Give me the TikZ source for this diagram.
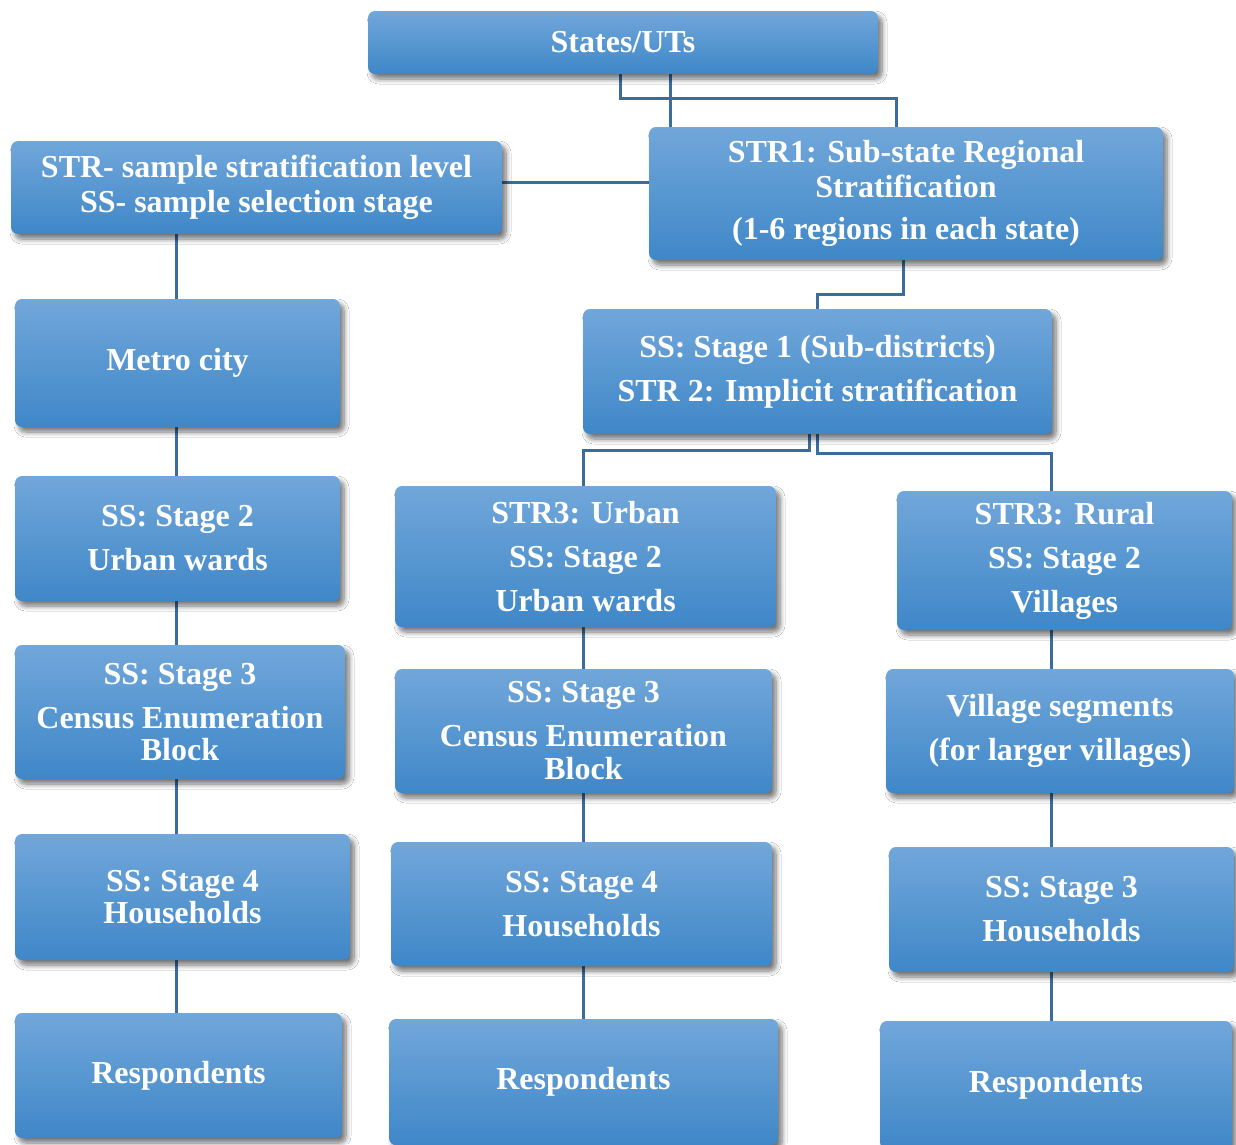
\documentclass[tikz,border=0pt]{standalone}
\usepackage{fontspec}
\setmainfont{Liberation Serif}
\usetikzlibrary{shadows.blur,backgrounds}
\definecolor{boxtop}{RGB}{113,167,218}
\definecolor{boxbot}{RGB}{63,135,200}
\definecolor{link}{RGB}{60,108,158}
\tikzset{
  stagebox/.style={rounded corners=7pt, top color=boxtop, bottom color=boxbot,
    draw=none, text=white, align=center, inner sep=0pt,
    font=\fontsize{32}{44}\selectfont\bfseries,
    blur shadow={shadow xshift=4pt, shadow yshift=-5pt, shadow blur steps=8,
      shadow blur radius=5pt, shadow blur extra rounding=2pt, shadow opacity=55}},
  wire/.style={draw=link, line width=3pt}
}
\begin{document}
\begin{tikzpicture}[x=1pt,y=-1pt]
\clip (0,0) rectangle (1236,1144);

% boxes
\node[stagebox, minimum width=510, minimum height=63] (states) at (623,42.5) {States/UTs};
\node[stagebox, minimum width=491, minimum height=93] (legend) at (256.5,187.5)
  {STR- sample stratification level\\[-9pt]SS- sample selection stage};
\node[stagebox, minimum width=514, minimum height=133] (str1) at (906,193.5)
  {STR1: Sub-state Regional\\[-9pt]Stratification\\[-2pt](1-6 regions in each state)};
\node[stagebox, minimum width=325, minimum height=128] (metro) at (177.5,363) {Metro city};
\node[stagebox, minimum width=469, minimum height=125] (stage1) at (817.5,371.5)
  {SS: Stage 1 (Sub-districts)\\STR 2: Implicit stratification};

% left column
\node[stagebox, minimum width=325, minimum height=125] (l2) at (177.5,538.5)
  {SS: Stage 2\\Urban wards};
\node[stagebox, minimum width=330, minimum height=134] (l3) at (180,712)
  {SS: Stage 3\\Census Enumeration\\[-12pt]Block};
\node[stagebox, minimum width=335, minimum height=126] (l4) at (182.5,897)
  {SS: Stage 4\\[-12pt]Households};
\node[stagebox, minimum width=327, minimum height=125] (lresp) at (178.5,1075.5) {Respondents};

% middle column
\node[stagebox, minimum width=381, minimum height=141] (urban) at (585.5,556.5)
  {STR3: Urban\\SS: Stage 2\\Urban wards};
\node[stagebox, minimum width=377, minimum height=124] (m3) at (583.5,731)
  {SS: Stage 3\\Census Enumeration\\[-11pt]Block};
\node[stagebox, minimum width=381, minimum height=124] (m4) at (581.5,904)
  {SS: Stage 4\\Households};
\node[stagebox, minimum width=389, minimum height=126] (mresp) at (583.5,1082) {Respondents};

% right column
\node[stagebox, minimum width=335, minimum height=139] (rural) at (1064.5,560.5)
  {STR3: Rural\\SS: Stage 2\\Villages};
\node[stagebox, minimum width=348, minimum height=124] (vseg) at (1060,731)
  {Village segments\\(for larger villages)};
\node[stagebox, minimum width=345, minimum height=125] (r3) at (1061.5,909.5)
  {SS: Stage 3\\Households};
\node[stagebox, minimum width=352, minimum height=128] (rresp) at (1056,1085) {Respondents};

% junction points of the connectors
\coordinate (sa) at (620,98);
\coordinate (sb) at (670,98);
\coordinate (sc) at (896,98);
\coordinate (lg) at (0,182);
\coordinate (ka) at (903,294);
\coordinate (kb) at (817,294);
\coordinate (ua) at (809,450);
\coordinate (ub) at (583,450);
\coordinate (ra) at (817,453);
\coordinate (rb) at (1051,453);
\coordinate (colL) at (176,0);
\coordinate (colM) at (583,0);
\coordinate (colR) at (1051,0);

\begin{pgfonlayer}{background}
  \fill[white] (0,0) rectangle (1236,1144);
  \draw[wire] (states.south -| sa) -- (sa) -- (sc) -- (str1.north -| sc);
  \draw[wire] (states.south -| sb) -- (str1.north -| sb);
  \draw[wire] (legend.east |- lg) -- (str1.west |- lg);
  \draw[wire] (str1.south -| ka) -- (ka) -- (kb) -- (stage1.north -| kb);
  \draw[wire] (stage1.south -| ua) -- (ua) -- (ub) -- (urban.north -| ub);
  \draw[wire] (stage1.south -| ra) -- (ra) -- (rb) -- (rural.north -| rb);
  \draw[wire] (legend.south -| colL) -- (lresp.north -| colL);
  \draw[wire] (urban.south -| colM) -- (mresp.north -| colM);
  \draw[wire] (rural.south -| colR) -- (rresp.north -| colR);
\end{pgfonlayer}
\end{tikzpicture}
\end{document}
